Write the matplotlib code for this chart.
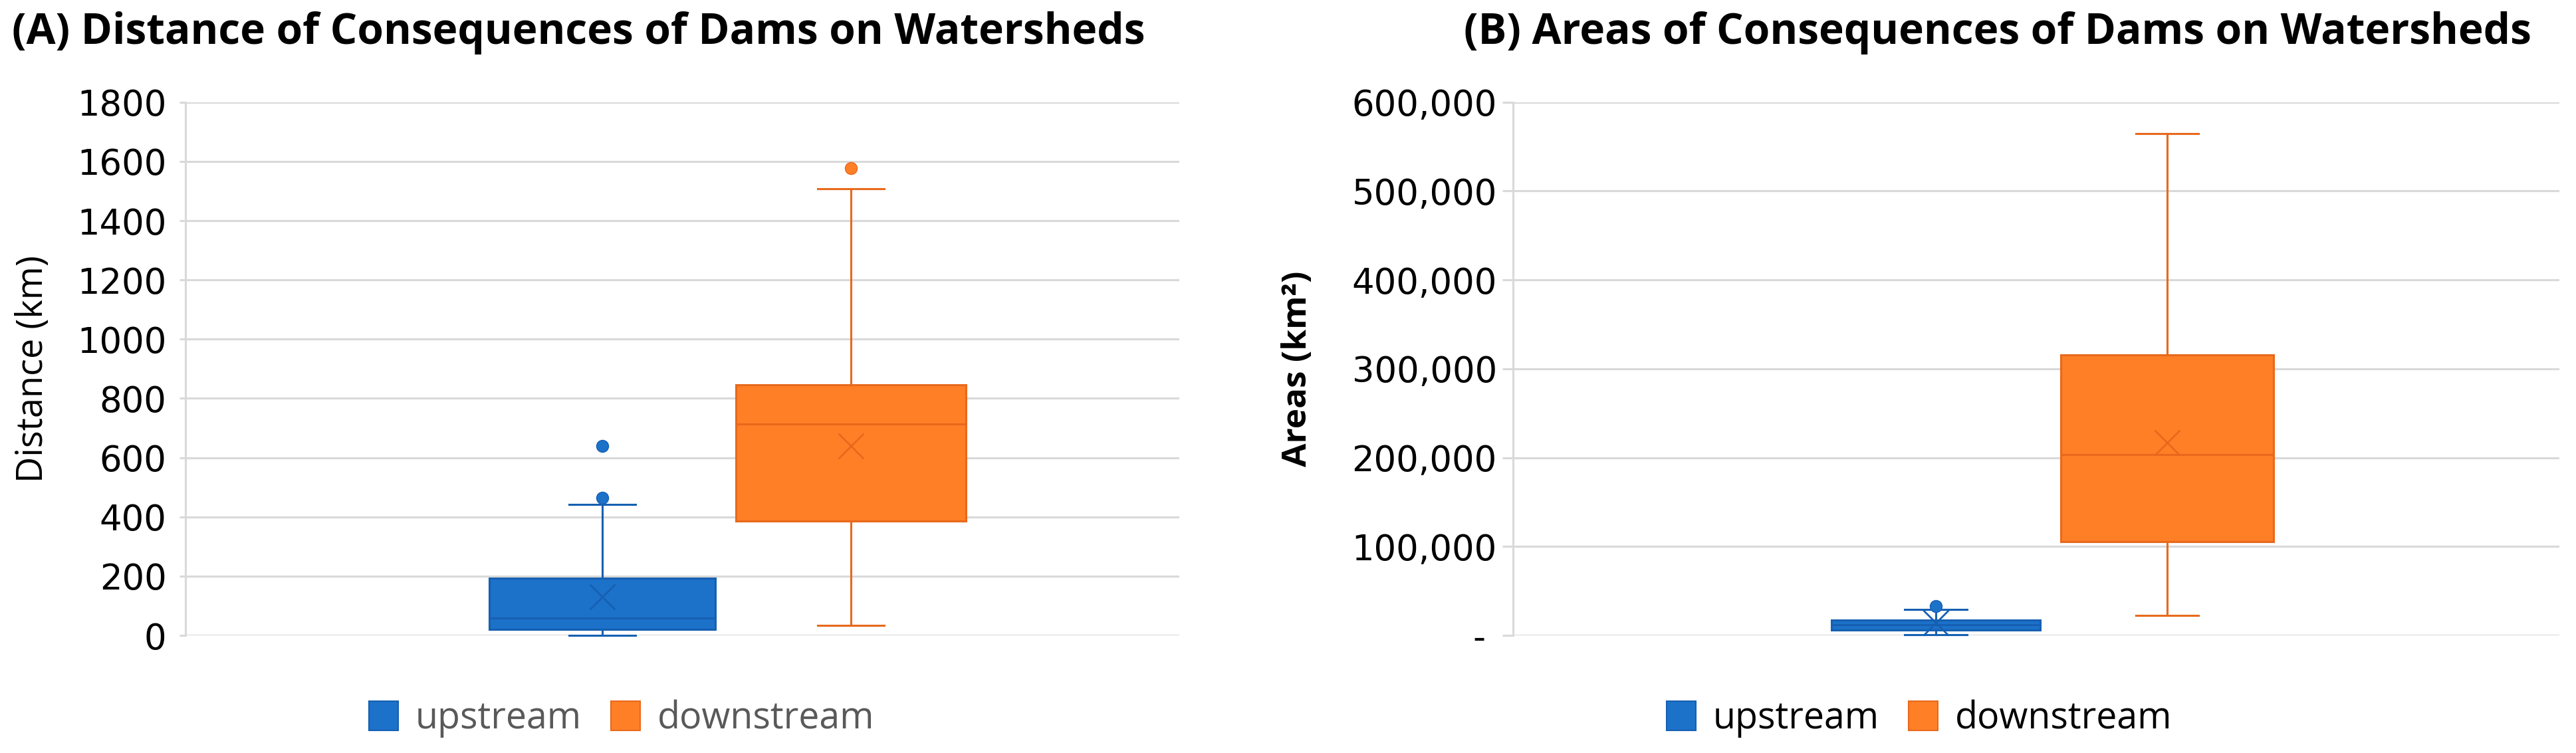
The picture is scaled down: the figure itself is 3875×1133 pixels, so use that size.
import matplotlib
matplotlib.use("Agg")
import matplotlib.pyplot as plt
from matplotlib.patches import Patch
from matplotlib.ticker import FuncFormatter

# values (Excel style: whiskers, quartiles, mean "x", outliers)
series_names = ["upstream", "downstream"]

dist_whislo = [0, 33]
dist_q1 = [21, 387]
dist_med = [58, 713]
dist_q3 = [193, 847]
dist_whishi = [441, 1508]
dist_mean = [131, 639]
dist_fliers = [[464, 639], [1578]]

area_whislo = [800, 22500]
area_q1 = [6100, 105300]
area_med = [12000, 203700]
area_q3 = [17200, 315600]
area_whishi = [29500, 564750]
area_mean = [14000, 217200]
area_fliers = [[32800], []]

dist_ticks = [0, 200, 400, 600, 800, 1000, 1200, 1400, 1600, 1800]
area_ticks = [0, 100000, 200000, 300000, 400000, 500000, 600000]

fill_colors = ["#1C71C9", "#FF7F27"]
edge_colors = ["#1660B2", "#E8691C"]
grid_col = "#D9D9D9"


def make_stats(whislo, q1, med, q3, whishi, mean, fliers):
    stats = []
    for i in range(len(q1)):
        stats.append(dict(whislo=whislo[i], q1=q1[i], med=med[i], q3=q3[i],
                          whishi=whishi[i], mean=mean[i], fliers=fliers[i]))
    return stats


def draw_boxes(ax, stats, positions, widths, capwidth):
    for i, st in enumerate(stats):
        ec = edge_colors[i]
        art = ax.bxp([st], positions=[positions[i]], widths=widths[i],
                     patch_artist=True, showmeans=True, capwidths=capwidth,
                     boxprops=dict(facecolor=fill_colors[i], edgecolor=ec, linewidth=2.2),
                     medianprops=dict(color=ec, linewidth=2.2),
                     whiskerprops=dict(color=ec, linewidth=2.2),
                     capprops=dict(color=ec, linewidth=2.2),
                     meanprops=dict(marker="x", markersize=28, markeredgecolor=ec,
                                    markeredgewidth=2),
                     flierprops=dict(marker="o", markersize=13, markerfacecolor=fill_colors[i],
                                     markeredgecolor=ec))
        for k in art:
            for a in art[k]:
                a.set_clip_on(False)


def style_axes(ax, ymax, ticks, ticklen, pad):
    ax.set_xlim(0, 1)
    ax.set_ylim(0, ymax)
    ax.set_yticks(ticks)
    ax.set_xticks([])
    ax.set_axisbelow(True)
    ax.yaxis.grid(True, color=grid_col, linewidth=2.2)
    for s in ["top", "right", "bottom"]:
        ax.spines[s].set_visible(False)
    ax.spines["left"].set_color(grid_col)
    ax.spines["left"].set_linewidth(2.2)
    ax.tick_params(axis="y", length=ticklen, width=2.2, color=grid_col, pad=pad,
                   labelsize=38, labelcolor="black")


fig = plt.figure(figsize=(38.75, 11.33), dpi=100)

# (A) distance
ax1 = fig.add_axes([0.0720, 0.1562, 0.3858, 0.7081])
draw_boxes(ax1, make_stats(dist_whislo, dist_q1, dist_med, dist_q3, dist_whishi, dist_mean, dist_fliers),
           [0.4194, 0.6696], [0.228, 0.231], 0.067)
style_axes(ax1, 1800, dist_ticks, 6.5, 14)
for lab in ax1.get_yticklabels():
    lab.set_fontfamily("DejaVu Sans")
ax1.set_ylabel("Distance (km)", fontsize=39, family="Open Sans")
ax1.yaxis.set_label_coords(-0.135, 0.5)

# (B) areas
ax2 = fig.add_axes([0.5874, 0.1562, 0.4062, 0.7081])
draw_boxes(ax2, make_stats(area_whislo, area_q1, area_med, area_q3, area_whishi, area_mean, area_fliers),
           [0.404, 0.625], [0.200, 0.203], 0.06)
style_axes(ax2, 600000, area_ticks, 11.5, 6)
ax2.yaxis.set_major_formatter(FuncFormatter(lambda v, p: "- " if v == 0 else "{:,.0f}".format(v)))
for lab in ax2.get_yticklabels():
    lab.set_fontfamily("DejaVu Sans")
ax2.set_ylabel("Areas (km²)", fontsize=37, family="Open Sans", fontweight="bold")
ax2.yaxis.set_label_coords(-0.19, 0.5)

fig.text(870 / 3875, 1 - 50 / 1133, "(A) Distance of Consequences of Dams on Watersheds",
         ha="center", va="center", fontsize=46, fontweight="bold", family="Open Sans")
fig.text(3005 / 3875, 1 - 50 / 1133, "(B) Areas of Consequences of Dams on Watersheds",
         ha="center", va="center", fontsize=46, fontweight="bold", family="Open Sans")

handles = [Patch(facecolor=fill_colors[i], edgecolor=edge_colors[i], linewidth=1.5) for i in range(2)]
leg_kw = dict(loc="center", ncol=2, frameon=False, handlelength=0.8, handleheight=0.85,
              handletextpad=0.45, columnspacing=0.8, prop=dict(family="Open Sans", size=40))
leg1 = fig.legend(handles, series_names, bbox_to_anchor=(935 / 3875, 1 - 1082 / 1133), labelcolor="#595959", **leg_kw)
leg2 = fig.legend(handles, series_names, bbox_to_anchor=(2887 / 3875, 1 - 1082 / 1133), labelcolor="black", **leg_kw)

fig.savefig("out.png", dpi=100, facecolor="white")
